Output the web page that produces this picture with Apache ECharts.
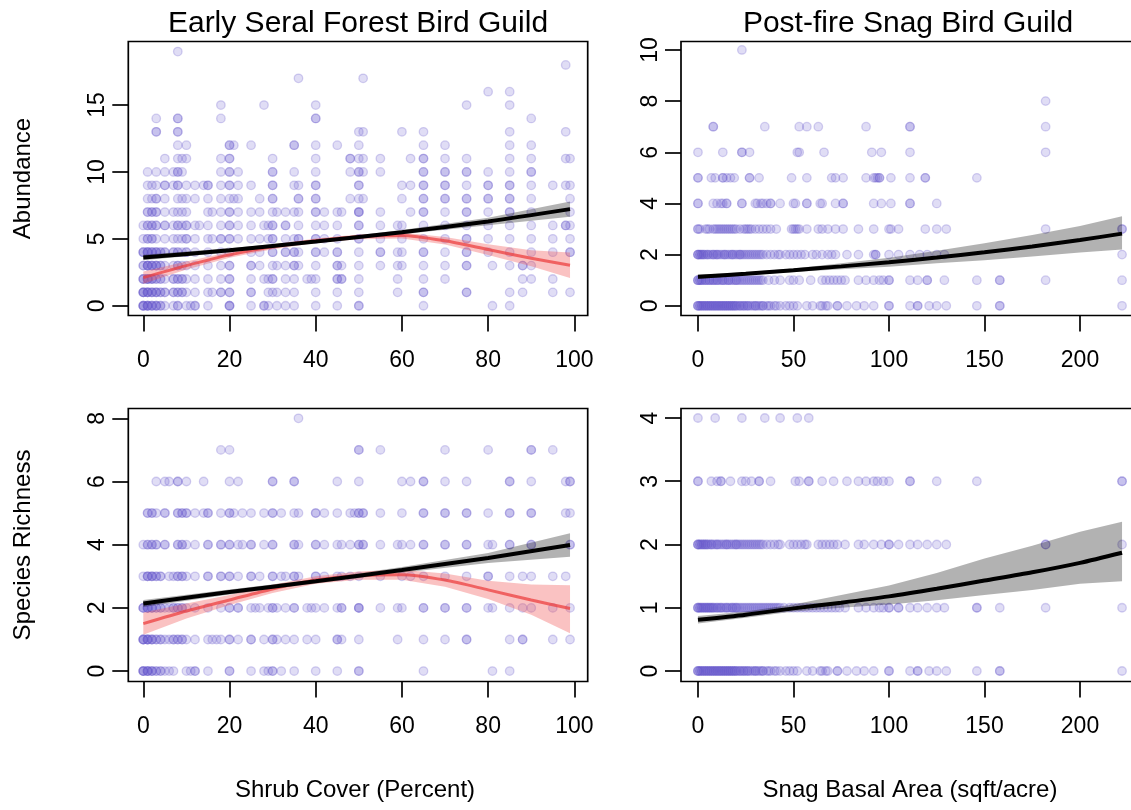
<!DOCTYPE html>
<html>
<head>
<meta charset="utf-8">
<title>Bird guild response to shrub cover and snag basal area</title>
<script src="https://cdn.jsdelivr.net/npm/echarts@6/dist/echarts.min.js"></script>
<style>
  html, body { margin: 0; padding: 0; background: #fff; overflow: hidden; }
  #chart { width: 1140px; height: 810px; }
</style>
</head>
<body>
<div id="chart"></div>
<script>
// ---------------------------------------------------------------
// Survey points: each row is [count, [x values of the sites]]
// (repeated x values are sites that share the same value)
// ---------------------------------------------------------------

// Abundance vs shrub cover (%)
const abundShrub = [
  [0,  [0,0,0,0,1,1,1,1,2,2,2,3,3,3,4,4,5,7,8,8,10,11,12,12,15,20,20,20,25,28,28,29,31,33,35,40,45,50,50,65,81,85]],
  [1,  [0,0,0,0,1,1,1,1,2,2,2,3,3,3,4,4,5,5,7,7,8,8,9,9,10,12,15,16,18,18,20,20,25,25,29,30,31,33,35,40,45,50,59,65,65,75,75,85,88,95,99]],
  [2,  [0,0,0,1,1,1,1,2,2,2,3,3,4,4,5,7,7,8,8,9,9,10,12,15,18,20,20,25,28,29,30,30,33,35,38,39,40,45,45,46,46,50,59,65,70,88,90,95]],
  [3,  [0,0,1,1,1,1,2,2,2,3,3,3,4,4,5,7,8,8,9,10,12,15,18,20,20,25,25,27,30,31,33,35,35,36,40,45,45,46,50,55,59,60,65,70,75,75,81,85,88,88,90]],
  [4,  [0,0,0,1,1,1,1,2,2,2,3,3,3,4,4,5,5,7,7,8,8,9,10,10,12,15,18,20,25,27,30,30,33,33,35,35,36,40,40,42,45,45,50,55,55,59,60,65,65,70,75,75,80,85,90,95,99,99]],
  [5,  [0,1,1,2,2,3,5,7,8,9,10,10,12,15,16,18,18,20,20,22,25,27,29,30,30,33,35,36,36,40,40,42,45,50,50,55,60,65,70,75,75,80,85,90,95,99]],
  [6,  [0,1,1,2,2,3,3,5,5,7,8,8,9,10,10,12,13,15,18,20,20,22,25,28,29,30,30,33,33,36,40,42,45,50,50,55,59,60,65,70,75,80,85,90,95,98,98,99]],
  [7,  [1,1,2,2,3,3,5,7,8,9,10,15,16,18,20,20,22,25,27,30,31,33,35,36,40,40,42,45,46,50,50,50,55,62,65,65,70,75,75,80,85,85,90,99]],
  [8,  [1,2,3,3,5,8,9,10,12,15,18,20,21,22,27,30,30,36,36,40,40,48,50,51,60,65,65,70,70,75,75,80,80,85,85,90,99]],
  [9,  [1,2,3,5,5,7,8,8,10,12,14,15,15,18,20,20,22,25,30,30,35,36,40,40,50,50,60,62,65,65,70,70,75,80,80,85,85,90,95,98,99]],
  [10, [1,3,5,7,8,8,9,18,20,20,22,30,30,35,40,48,50,50,51,55,65,65,70,70,75,75,80,85,90,90]],
  [11, [5,8,9,10,18,20,20,30,40,48,48,50,51,55,62,65,65,70,75,85,90,98,99]],
  [12, [8,10,20,20,21,25,35,35,40,45,50,65,70,85,90]],
  [13, [3,3,8,8,50,51,60,65,85,98]],
  [14, [3,8,8,18,40,40,90]],
  [15, [18,28,40,75,85]],
  [16, [80,85]],
  [17, [36,51]],
  [18, [98]],
  [19, [8]]
];

// Species richness vs shrub cover (%)
const richShrub = [
  [0, [0,0,0,0,1,1,1,1,2,2,2,3,3,4,4,5,6,7,10,11,12,12,15,20,20,25,28,29,30,30,32,35,40,45,50,50,65,81,85]],
  [1, [0,0,0,0,1,1,1,1,2,2,2,3,3,4,4,5,6,7,7,8,8,9,9,10,12,15,16,17,18,20,20,22,25,25,28,30,30,31,33,35,38,40,45,45,46,50,59,65,70,75,75,85,88,88,95,99]],
  [2, [0,0,0,1,1,1,1,2,2,2,3,3,4,4,5,6,7,7,8,8,9,9,10,12,15,18,20,20,22,22,25,26,27,29,30,30,31,33,35,35,38,39,40,42,45,46,46,50,50,50,55,59,60,65,65,70,70,75,75,80,81,85,88,90,95,99]],
  [3, [0,1,1,1,2,2,2,3,3,4,4,6,7,8,8,9,9,10,12,15,15,18,18,20,20,22,25,25,27,30,30,32,33,35,35,36,40,40,42,45,46,48,50,55,60,62,65,70,75,80,80,85,88,90,95,98]],
  [4, [0,1,1,2,2,3,3,5,5,8,8,9,9,10,12,15,15,18,18,20,20,22,23,25,25,28,30,30,35,35,36,40,40,42,45,46,48,50,50,51,51,55,59,60,62,65,65,70,70,75,75,80,81,85,85,90,90,99,99]],
  [5, [1,1,2,2,3,5,5,8,8,9,9,10,10,12,14,15,15,18,20,20,21,23,25,28,30,30,32,35,36,40,40,42,45,48,49,50,50,51,51,55,60,65,65,70,70,75,75,80,85,85,90,90,98,99]],
  [6, [3,5,6,8,8,10,14,20,22,30,30,35,35,45,50,60,62,65,65,70,75,85,85,90,98,99,99]],
  [7, [18,20,50,50,55,70,80,90,90,95]],
  [8, [36]]
];

// Abundance vs snag basal area (sqft/acre)
const abundSnag = [
  [0,  [0,0,0,1,1,2,2,3,3,4,4,5,5,6,6,7,7,8,8,9,9,10,10,11,11,12,12,13,13,14,14,15,15,16,16,17,17,18,18,19,19,20,20,21,22,22,23,24,24,25,26,26,27,28,29,30,30,31,32,33,34,34,36,37,38,40,41,43,46,48,50,52,57,60,64,65,67,68,73,73,78,83,87,92,100,100,111,115,115,121,125,130,146,158,158,222]],
  [1,  [0,0,0,1,1,2,2,3,4,4,5,6,6,7,8,8,9,10,10,11,12,13,13,14,15,16,16,17,18,19,20,20,21,22,23,24,25,26,27,28,29,30,31,32,33,34,37,40,43,48,50,53,59,65,67,69,71,73,75,77,84,88,92,95,97,100,100,111,115,120,120,129,146,158,158,182,222]],
  [2,  [0,0,0,1,1,2,2,3,3,4,5,5,6,7,8,8,9,10,10,11,12,13,14,14,15,16,17,18,18,19,20,21,22,22,23,24,25,26,27,28,29,30,31,32,33,34,36,38,40,42,43,46,48,50,52,54,56,60,62,65,68,70,72,78,84,92,93,93,100,105,111,116,120,125,129,222]],
  [3,  [0,0,1,4,5,6,8,9,10,11,12,13,14,15,16,17,18,19,20,22,24,25,26,27,28,30,32,34,36,38,41,49,50,51,52,53,57,63,65,68,72,76,84,92,100,101,105,119,125,130,182,222,222]],
  [4,  [0,0,8,10,12,13,15,15,23,23,30,31,33,34,36,38,38,43,50,51,57,57,64,65,72,76,76,92,96,101,111,111,125]],
  [5,  [0,0,7,9,13,13,15,17,19,27,27,32,49,57,70,72,76,88,92,93,94,95,95,101,111,119,119,146]],
  [6,  [0,13,23,23,27,52,53,66,91,96,111,182]],
  [7,  [8,8,35,53,57,63,88,111,111,182]],
  [8,  [182]],
  [10, [23]]
];

// Species richness vs snag basal area (sqft/acre)
const richSnag = [
  [0, [0,0,0,1,1,2,2,3,3,4,4,5,5,6,6,7,7,8,8,9,9,10,10,11,11,12,12,13,13,14,14,15,15,16,16,17,17,18,18,19,19,20,20,21,22,22,23,24,24,25,26,26,27,28,29,30,30,31,32,33,34,34,36,37,38,40,41,43,46,48,50,52,57,60,64,65,67,68,73,73,78,83,87,92,100,100,111,115,115,121,125,130,146,158,158,222]],
  [1, [0,0,0,1,1,2,2,3,3,4,4,5,5,6,6,7,7,8,8,9,10,10,11,12,12,13,14,15,15,16,17,18,18,19,20,20,21,22,23,24,25,26,27,28,29,30,31,32,33,34,35,36,37,38,39,40,41,42,43,45,48,50,52,54,56,58,60,62,64,66,68,70,72,74,77,84,88,92,95,97,100,100,105,105,111,115,120,125,129,146,146,158,182,222]],
  [2, [0,0,0,1,1,2,2,3,3,4,4,5,5,6,7,7,8,9,10,10,11,12,13,14,15,15,16,17,18,19,20,20,21,22,23,24,25,26,27,28,29,30,31,32,33,34,36,38,40,42,43,48,50,52,54,56,57,63,65,67,69,71,73,77,84,87,92,96,100,100,105,111,115,120,125,130,182,182,222]],
  [3, [0,0,7,10,12,12,17,23,25,28,32,32,38,51,53,58,58,65,71,78,84,88,92,94,97,100,111,111,125,146,222,222]],
  [4, [0,9,23,35,43,52,58]]
];

// ---------------------------------------------------------------
// Fitted curves with confidence bands: [x, fit, lower, upper]
// ---------------------------------------------------------------
const abundShrubLinearFit = [
  [0, 3.60, 3.40, 3.82], [20, 4.15, 4.00, 4.30], [40, 4.80, 4.68, 4.92],
  [60, 5.50, 5.35, 5.66], [80, 6.30, 6.02, 6.58], [99, 7.22, 6.65, 7.80]
];
const abundShrubQuadFit = [
  [0, 2.10, 1.65, 2.55], [10, 3.00, 2.70, 3.30], [20, 3.80, 3.58, 4.02],
  [30, 4.40, 4.22, 4.58], [40, 4.85, 4.68, 5.02], [50, 5.15, 4.97, 5.33],
  [60, 5.25, 5.03, 5.47], [70, 4.85, 4.57, 5.13], [80, 4.20, 3.80, 4.60],
  [90, 3.55, 2.95, 4.15], [99, 3.03, 2.08, 3.98]
];
const richShrubLinearFit = [
  [0, 2.14, 2.03, 2.25], [20, 2.50, 2.42, 2.58], [40, 2.84, 2.77, 2.91],
  [60, 3.20, 3.11, 3.29], [80, 3.58, 3.42, 3.74], [99, 3.99, 3.62, 4.36]
];
const richShrubQuadFit = [
  [0, 1.50, 1.15, 1.85], [10, 1.90, 1.66, 2.14], [20, 2.25, 2.09, 2.41],
  [30, 2.60, 2.47, 2.73], [40, 2.88, 2.76, 3.00], [50, 3.02, 2.89, 3.15],
  [60, 3.05, 2.89, 3.21], [70, 2.88, 2.67, 3.09], [80, 2.57, 2.28, 2.86],
  [90, 2.25, 1.78, 2.74], [99, 1.98, 1.20, 2.72]
];
const abundSnagFit = [
  [0, 1.13, 1.05, 1.21], [25, 1.25, 1.19, 1.31], [50, 1.39, 1.32, 1.46],
  [75, 1.54, 1.43, 1.66], [100, 1.70, 1.53, 1.88], [125, 1.89, 1.66, 2.15],
  [150, 2.09, 1.78, 2.44], [175, 2.32, 1.93, 2.77], [200, 2.57, 2.08, 3.12],
  [222, 2.82, 2.20, 3.50]
];
const richSnagFit = [
  [0, 0.81, 0.75, 0.87], [25, 0.89, 0.84, 0.94], [50, 0.99, 0.94, 1.05],
  [75, 1.08, 1.00, 1.20], [100, 1.18, 1.05, 1.35], [125, 1.30, 1.12, 1.55],
  [150, 1.43, 1.20, 1.78], [175, 1.56, 1.28, 1.98], [200, 1.71, 1.38, 2.20],
  [222, 1.87, 1.42, 2.36]
];

// Tick labels
const shrubTicks = [0, 20, 40, 60, 80, 100];
const snagTicks = [0, 50, 100, 150, 200];
const abundShrubTicks = [0, 5, 10, 15];
const abundSnagTicks = [0, 2, 4, 6, 8, 10];
const richShrubTicks = [0, 2, 4, 6, 8];
const richSnagTicks = [0, 1, 2, 3, 4];

// Text
const panelTitles = ['Early Seral Forest Bird Guild', 'Post-fire Snag Bird Guild'];
const xTitles = ['Shrub Cover (Percent)', 'Snag Basal Area (sqft/acre)'];
const yTitles = ['Abundance', 'Species Richness'];

// ---------------------------------------------------------------
// Drawing
// ---------------------------------------------------------------
const FONT = '"Liberation Sans", Arial, Helvetica, sans-serif';
const POINT_FILL = 'rgba(106,90,205,0.26)';
const POINT_EDGE = 'rgba(106,90,205,0.34)';
const GREY_BAND = 'rgba(0,0,0,0.30)';
const RED_BAND = 'rgba(240,80,80,0.35)';
const RED_LINE = 'rgba(235,60,60,0.72)';

// plot boxes (px) and data ranges, base-graphics style (4% padding)
const panels = [
  { box: { left: 128.3, top: 41.5, width: 459.4, height: 274 },
    x: [-3.48, 103.1], y: [-0.73, 19.75], xt: shrubTicks, yt: abundShrubTicks,
    pts: abundShrub, lin: abundShrubLinearFit, quad: abundShrubQuadFit },
  { box: { left: 681, top: 41.5, width: 458, height: 274 },
    x: [-8.88, 230.88], y: [-0.38, 10.33], xt: snagTicks, yt: abundSnagTicks,
    pts: abundSnag, lin: abundSnagFit, quad: null },
  { box: { left: 128.3, top: 408.5, width: 459.4, height: 273 },
    x: [-3.48, 103.1], y: [-0.33, 8.31], xt: shrubTicks, yt: richShrubTicks,
    pts: richShrub, lin: richShrubLinearFit, quad: richShrubQuadFit },
  { box: { left: 681, top: 408.5, width: 458, height: 273 },
    x: [-8.88, 230.88], y: [-0.166, 4.15], xt: snagTicks, yt: richSnagTicks,
    pts: richSnag, lin: richSnagFit, quad: null }
];

function toPoints(rows) {
  const out = [];
  rows.forEach(([y, xs]) => xs.forEach(x => out.push([x, y])));
  return out;
}

function bandSeries(idx, rows, color, z) {
  return {
    type: 'custom', xAxisIndex: idx, yAxisIndex: idx, silent: true, z: z,
    animation: false,
    data: [[rows[0][0], rows[0][1]]],
    renderItem: function (params, api) {
      const upper = rows.map(r => api.coord([r[0], r[3]]));
      const lower = rows.map(r => api.coord([r[0], r[2]])).reverse();
      return { type: 'polygon', shape: { points: upper.concat(lower) },
               style: { fill: color, stroke: null } };
    }
  };
}

function lineSeries(idx, rows, color, width, z) {
  return {
    type: 'line', xAxisIndex: idx, yAxisIndex: idx, silent: true, z: z,
    data: rows.map(r => [r[0], r[1]]), showSymbol: false, symbol: 'none',
    smooth: 0.25, lineStyle: { color: color, width: width, cap: 'butt' },
    animation: false
  };
}

const grid = [], xAxis = [], yAxis = [], series = [];
panels.forEach((p, i) => {
  grid.push(Object.assign({ show: true, borderColor: '#000', borderWidth: 1.7,
                            backgroundColor: 'transparent' }, p.box));
  xAxis.push({
    type: 'value', gridIndex: i, min: p.x[0], max: p.x[1],
    axisLine: { show: false, onZero: false },
    splitLine: { show: false },
    axisTick: { show: true, inside: false, length: 16, customValues: p.xt,
                lineStyle: { color: '#000', width: 1.7 } },
    axisLabel: { show: true, customValues: p.xt, margin: 34, fontSize: 23,
                 color: '#000', fontFamily: FONT }
  });
  yAxis.push({
    type: 'value', gridIndex: i, min: p.y[0], max: p.y[1],
    axisLine: { show: false, onZero: false },
    splitLine: { show: false },
    axisTick: { show: true, inside: false, length: 16, customValues: p.yt,
                lineStyle: { color: '#000', width: 1.7 } },
    axisLabel: { show: true, customValues: p.yt, margin: 19, rotate: 90,
                 fontSize: 23, color: '#000', fontFamily: FONT }
  });
  series.push({
    type: 'scatter', xAxisIndex: i, yAxisIndex: i, silent: true, z: 2,
    data: toPoints(p.pts), symbol: 'circle', symbolSize: 8.5,
    itemStyle: { color: POINT_FILL, borderColor: POINT_EDGE, borderWidth: 1.3 },
    progressive: 0, animation: false
  });
  series.push(bandSeries(i, p.lin, GREY_BAND, 3));
  if (p.quad) {
    series.push(bandSeries(i, p.quad, RED_BAND, 4));
    series.push(lineSeries(i, p.quad, RED_LINE, 3, 5));
  }
  series.push(lineSeries(i, p.lin, '#000', 4, 6));
});

function text(x, y, str, size, rot) {
  return {
    type: 'text', x: x, y: y, rotation: rot || 0, silent: true,
    style: { text: str, fill: '#000', font: size + 'px ' + FONT,
             align: 'center', verticalAlign: 'middle' }
  };
}

const graphic = [
  text(358, 24, panelTitles[0], 30),
  text(908, 24, panelTitles[1], 30),
  text(355, 790, xTitles[0], 24),
  text(910, 790, xTitles[1], 24),
  text(23, 178.5, yTitles[0], 24, Math.PI / 2),
  text(23, 545, yTitles[1], 24, Math.PI / 2)
];

const chart = echarts.init(document.getElementById('chart'), null, { renderer: 'canvas' });
chart.setOption({
  backgroundColor: '#fff',
  animation: false,
  grid: grid, xAxis: xAxis, yAxis: yAxis, series: series, graphic: graphic
});
</script>
</body>
</html>
